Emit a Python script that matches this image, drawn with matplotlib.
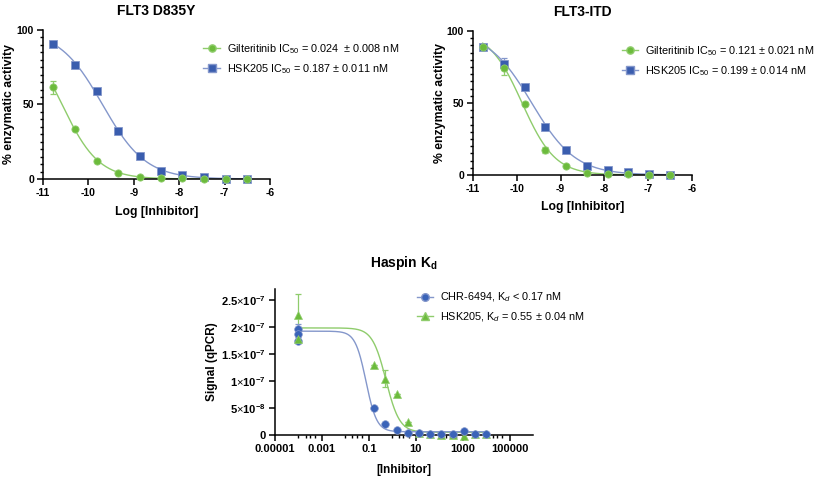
import numpy as np
import matplotlib
matplotlib.use('Agg')
import matplotlib.pyplot as plt
from matplotlib.ticker import MultipleLocator, FixedLocator, NullFormatter, FixedFormatter

plt.rcParams['font.family'] = ['Liberation Sans', 'DejaVu Sans']
plt.rcParams['mathtext.fontset'] = 'custom'
plt.rcParams['mathtext.rm'] = 'Liberation Sans'
plt.rcParams['mathtext.it'] = 'Liberation Sans:italic'
plt.rcParams['mathtext.bf'] = 'Liberation Sans:bold'
plt.rcParams['axes.unicode_minus'] = False

# ---------------- data ----------------
log_conc = [-10.78, -10.29, -9.82, -9.35, -8.87, -8.40, -7.93, -7.46, -6.98, -6.51]

d835y_gilt = [61.6, 33.7, 12.3, 3.8, 1.1, 1.0, 0.5, 0.3, 0.0, 0.0]
d835y_gilt_err = [4.5, 0.8, 0.6, 0.4, 0.3, 0.2, 0.2, 0.2, 0.2, 0.2]
d835y_hsk = [90.6, 76.6, 58.9, 31.9, 15.2, 5.4, 2.7, 1.3, 0.2, 0.1]
d835y_hsk_err = [0.6, 1.5, 0.8, 1.0, 0.5, 0.3, 0.3, 0.2, 0.2, 0.2]

itd_gilt = [89.1, 74.0, 49.4, 17.2, 6.0, 1.2, 0.7, 0.7, 0.2, 0.3]
itd_gilt_err = [1.5, 4.5, 1.0, 2.0, 0.6, 0.3, 0.3, 0.3, 0.2, 0.2]
itd_hsk = [88.6, 77.0, 60.8, 33.2, 17.2, 6.3, 3.2, 2.1, 0.9, 0.2]
itd_hsk_err = [1.0, 4.0, 1.5, 2.0, 1.0, 0.5, 0.4, 0.3, 0.3, 0.2]

kd_conc = [0.169, 0.508, 1.52, 4.57, 13.7, 41.2, 123, 370, 1111, 3333, 10000]
chr_signal = [5.06e-8, 1.98e-8, 0.86e-8, 0.30e-8, 0.43e-8, 0.20e-8, 0.20e-8,
              0.20e-8, 0.68e-8, 0.25e-8, 0.12e-8]
hsk_signal = [12.96e-8, 10.4e-8, 7.6e-8, 2.47e-8, 0.30e-8, 0.20e-8, 0.0,
              0.05e-8, -0.10e-8, 0.10e-8, 0.20e-8]
hsk_signal_err = [0, 1.6e-8, 0, 0, 0, 0, 0, 0, 0, 0, 0]

control_conc = 1e-4
chr_control = [1.96e-7, 1.86e-7, 1.74e-7]
chr_control_err = [0.10e-7, 0.05e-7, 0.0]
hsk_control = [2.22e-7, 1.77e-7]
hsk_control_err = [0.39e-7, 0.0]

# fitted Kd-curve parameters as drawn in the figure: [top, bottom, log10 Kd, Hill slope]
chr_fit = [1.92e-7, 0.06e-7, -1.12, 1.9]
hsk_fit = [1.98e-7, 0.05e-7, -0.27, 1.5]

x_ticks_log = [-11, -10, -9, -8, -7, -6]
y_ticks_pct = [0, 50, 100]
kd_xticks = [1e-5, 1e-3, 1e-1, 1e1, 1e3, 1e5]
kd_xticklabels = ['0.00001', '0.001', '0.1', '10', '1000', '100000']
kd_yticks = [0, 5e-8, 1e-7, 1.5e-7, 2e-7, 2.5e-7]
kd_yticklabels = ['0', r'5$\times$10$^{\mathbf{-8}}$', r'1$\times$10$^{\mathbf{-7}}$',
                  r'1.5$\times$10$^{\mathbf{-7}}$', r'2$\times$10$^{\mathbf{-7}}$',
                  r'2.5$\times$10$^{\mathbf{-7}}$']

GREEN = '#6cbb3c'
GREEN_L = '#8fcc6c'
BLUE = '#3a5dae'
BLUE_L = '#8497cb'
BLUE3 = '#3a63b8'


def fit_logistic(x, y, top, bottom, hmax=3.0):
    x = np.asarray(x, float)
    y = np.asarray(y, float)
    cs = np.arange(x.min() - 1, x.max() + 1, 0.005)
    hs = np.arange(0.5, hmax, 0.01)
    C, H = np.meshgrid(cs, hs, indexing='ij')
    F = 1.0 / (1.0 + 10 ** ((x[None, None, :] - C[..., None]) * H[..., None]))
    pred = bottom + (top - bottom) * F
    sse = ((pred - y) ** 2).sum(-1)
    i, j = np.unravel_index(np.argmin(sse), sse.shape)
    return (top, bottom, cs[i], hs[j])


def curve(params, xs):
    top, bottom, c, h = params
    return bottom + (top - bottom) / (1.0 + 10 ** ((xs - c) * h))


fig = plt.figure(figsize=(8.17, 4.79), dpi=100)

LEG_FS = 7.8


def style_axes(ax, tick_fs):
    for sp in ['top', 'right']:
        ax.spines[sp].set_visible(False)
    for sp in ['left', 'bottom']:
        ax.spines[sp].set_linewidth(1.1)
    ax.tick_params(which='major', direction='out', length=4.5, width=1.1,
                   labelsize=tick_fs, pad=2)
    ax.tick_params(which='minor', direction='out', length=2.5, width=1.0)
    for lab in ax.get_xticklabels() + ax.get_yticklabels():
        lab.set_fontweight('bold')


def pct_panel(rect, title, gilt, gilt_err, hsk, hsk_err, labels, leg_xy):
    ax = fig.add_axes(rect)
    xs = np.linspace(min(log_conc), max(log_conc), 300)
    pg = fit_logistic(log_conc, gilt, top=100.0, bottom=0.0)
    ph = fit_logistic(log_conc, hsk, top=100.0, bottom=0.0)
    ax.plot(xs, curve(pg, xs), color=GREEN_L, lw=1.0, zorder=2)
    ax.plot(xs, curve(ph, xs), color=BLUE_L, lw=1.0, zorder=2)
    ax.errorbar(log_conc, gilt, yerr=gilt_err, fmt='none', ecolor=GREEN_L,
                elinewidth=0.9, capsize=2.5, capthick=0.9, zorder=3, clip_on=False)
    ax.errorbar(log_conc, hsk, yerr=hsk_err, fmt='none', ecolor=BLUE_L,
                elinewidth=0.9, capsize=2.5, capthick=0.9, zorder=3, clip_on=False)
    ax.plot(log_conc, hsk, ls='none', marker='s', ms=5.2, color=BLUE,
            mec=BLUE_L, mew=0.6, zorder=4, clip_on=False)
    ax.plot(log_conc, gilt, ls='none', marker='o', ms=5.2, color=GREEN,
            mec=GREEN_L, mew=0.6, zorder=5, clip_on=False)
    ax.set_xlim(-11, -6)
    ax.set_ylim(0, 100)
    ax.xaxis.set_major_locator(FixedLocator(x_ticks_log))
    ax.yaxis.set_major_locator(FixedLocator(y_ticks_pct))
    ax.yaxis.set_minor_locator(MultipleLocator(5))
    ax.set_xlabel('Log [Inhibitor]', fontsize=8.8, fontweight='bold')
    ax.set_ylabel('% enzymatic activity', fontsize=8.8, fontweight='bold')
    ax.xaxis.set_label_coords(0.5, -0.18)
    ax.yaxis.set_label_coords(-0.123, 0.5)
    ax.set_title(title, fontsize=10, fontweight='bold', pad=11)
    style_axes(ax, 7.5)
    h1 = plt.Line2D([], [], color=GREEN_L, lw=1.0, marker='o', ms=5.2, mfc=GREEN, mec=GREEN_L)
    h2 = plt.Line2D([], [], color=BLUE_L, lw=1.0, marker='s', ms=5.2, mfc=BLUE, mec=BLUE_L)
    fig.legend([h1, h2], labels, loc='upper left', bbox_to_anchor=leg_xy,
               bbox_transform=fig.transFigure, frameon=False, fontsize=LEG_FS,
               handlelength=1.5, handletextpad=0.65, labelspacing=0.55,
               borderpad=0, borderaxespad=0)
    return ax


pct_panel([0.0526, 0.6263, 0.2779, 0.3111], 'FLT3 D835Y',
          d835y_gilt, d835y_gilt_err, d835y_hsk, d835y_hsk_err,
          ['Gilteritinib IC$_{50}$ = 0.024  \u00b1 0.008 nM',
           'HSK205 IC$_{50}$ = 0.187 \u00b1 0.011 nM'],
          (0.249, 0.912))

pct_panel([0.5790, 0.6347, 0.2681, 0.3006], 'FLT3-ITD',
          itd_gilt, itd_gilt_err, itd_hsk, itd_hsk_err,
          ['Gilteritinib IC$_{50}$ = 0.121 \u00b1 0.021 nM',
           'HSK205 IC$_{50}$ = 0.199 \u00b1 0.014 nM'],
          (0.761, 0.908))

# ---------------- Haspin Kd panel ----------------
ax3 = fig.add_axes([0.3366, 0.0919, 0.3158, 0.3048])
lxs = np.linspace(np.log10(control_conc), np.log10(max(kd_conc)), 400)
ax3.plot(10 ** lxs, curve(hsk_fit, lxs), color=GREEN_L, lw=1.0, zorder=2)
ax3.plot(10 ** lxs, curve(chr_fit, lxs), color=BLUE_L, lw=1.0, zorder=2)

ax3.errorbar([control_conc] * len(hsk_control), hsk_control, yerr=hsk_control_err,
             fmt='none', ecolor=GREEN_L, elinewidth=0.9, capsize=2.5, capthick=0.9, zorder=3)
ax3.errorbar([control_conc] * len(chr_control), chr_control, yerr=chr_control_err,
             fmt='none', ecolor=BLUE_L, elinewidth=0.9, capsize=2.5, capthick=0.9, zorder=3)
ax3.errorbar(kd_conc, hsk_signal, yerr=hsk_signal_err, fmt='none', ecolor=GREEN_L,
             elinewidth=0.9, capsize=2.5, capthick=0.9, zorder=3)
ax3.plot([control_conc] * len(chr_control), chr_control, ls='none', marker='o', ms=5.5,
         color=BLUE3, mec=BLUE_L, mew=0.5, zorder=4, clip_on=False)
ax3.plot(kd_conc, hsk_signal, ls='none', marker='^', ms=5.5, color=GREEN,
         mec=GREEN_L, mew=0.5, zorder=4, clip_on=False)
ax3.plot([control_conc] * len(hsk_control), hsk_control, ls='none', marker='^', ms=5.5,
         color=GREEN, mec=GREEN_L, mew=0.5, zorder=5, clip_on=False)
ax3.plot(kd_conc, chr_signal, ls='none', marker='o', ms=5.5, color=BLUE3,
         mec=BLUE_L, mew=0.5, zorder=5, clip_on=False)

ax3.set_xscale('log')
ax3.set_xlim(1e-5, 1e6)
ax3.set_ylim(0, 2.7e-7)
ax3.xaxis.set_major_locator(FixedLocator(kd_xticks))
ax3.xaxis.set_major_formatter(FixedFormatter(kd_xticklabels))
minor = [m * 10.0 ** d for d in range(-4, 5, 2) for m in (1, 2, 3, 5)]
ax3.xaxis.set_minor_locator(FixedLocator(minor))
ax3.xaxis.set_minor_formatter(NullFormatter())
ax3.yaxis.set_major_locator(FixedLocator(kd_yticks))
ax3.yaxis.set_major_formatter(FixedFormatter(kd_yticklabels))
ax3.set_xlabel('[Inhibitor]', fontsize=8.5, fontweight='bold')
ax3.set_ylabel('Signal (qPCR)', fontsize=8.5, fontweight='bold')
ax3.xaxis.set_label_coords(0.5, -0.2)
ax3.yaxis.set_label_coords(-0.221, 0.5)
ax3.set_title(r'Haspin K$_{\mathbf{d}}$', fontsize=10, fontweight='bold', pad=16)
style_axes(ax3, 8)

h1 = plt.Line2D([], [], color=BLUE_L, lw=1.0, marker='o', ms=5.5, mfc=BLUE3, mec=BLUE_L)
h2 = plt.Line2D([], [], color=GREEN_L, lw=1.0, marker='^', ms=5.5, mfc=GREEN, mec=GREEN_L)
fig.legend([h1, h2], ['CHR-6494, K$_d$ < 0.17 nM', 'HSK205, K$_d$ = 0.55 \u00b1 0.04 nM'],
           loc='upper left', bbox_to_anchor=(0.510, 0.393),
           bbox_transform=fig.transFigure, frameon=False, fontsize=LEG_FS,
           handlelength=1.5, handletextpad=0.65, labelspacing=0.55,
           borderpad=0, borderaxespad=0)

fig.savefig('out.png', dpi=100)
